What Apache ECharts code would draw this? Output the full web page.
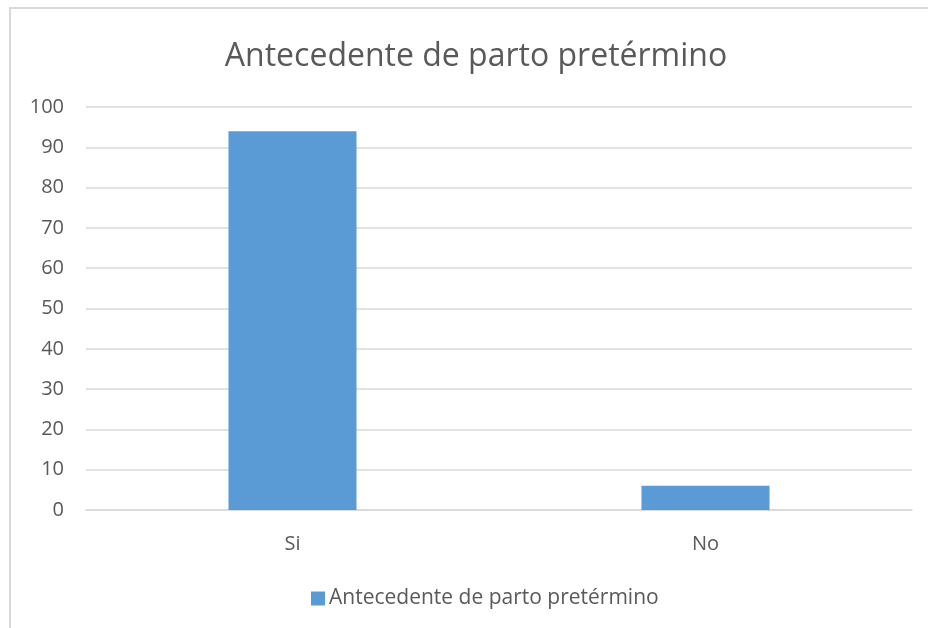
<!DOCTYPE html>
<html>
<head>
<meta charset="utf-8">
<script src="https://cdn.jsdelivr.net/npm/echarts@6/dist/echarts.min.js"></script>
<style>
html,body{margin:0;padding:0;background:#fff;}
#c{width:928px;height:628px;}
</style>
</head>
<body>
<div id="c"></div>
<script>
const titleText = 'Antecedente de parto pretérmino';
const seriesName = 'Antecedente de parto pretérmino';
const categories = ['Si', 'No'];
const values = [94, 6];

const chart = echarts.init(document.getElementById('c'), null, {renderer: 'canvas'});
const FONT = '"Open Sans", "Liberation Sans", sans-serif';
chart.setOption({
  backgroundColor: '#ffffff',
  animation: false,
  textStyle: {fontFamily: FONT},
  graphic: [
    {type: 'rect', shape: {x: 10, y: 8, width: 960, height: 700}, style: {fill: 'none', stroke: '#d9d9d9', lineWidth: 2}, silent: true, z: -1},
    {type: 'text', x: 476, y: 57, style: {text: titleText, font: '32px ' + FONT, fill: '#595959', textAlign: 'center', textVerticalAlign: 'middle'}}
  ],
  legend: {
    left: 306, top: 583,
    icon: 'rect', itemWidth: 14, itemHeight: 14, itemGap: 10,
    textStyle: {color: '#595959', fontSize: 21, fontFamily: FONT, padding: [0, 0, 0, -1]},
    data: [seriesName]
  },
  grid: {left: 86, right: 16, top: 107, bottom: 118, containLabel: false},
  xAxis: {
    type: 'category', data: categories,
    axisLine: {lineStyle: {color: '#d9d9d9', width: 1.5}},
    axisTick: {show: false},
    axisLabel: {color: '#595959', fontSize: 20, margin: 24, fontFamily: FONT}
  },
  yAxis: {
    type: 'value', min: 0, max: 100, interval: 10,
    axisLine: {show: false}, axisTick: {show: false},
    axisLabel: {color: '#595959', fontSize: 20, margin: 22, fontFamily: FONT},
    splitLine: {lineStyle: {color: '#d9d9d9', width: 1.5}}
  },
  series: [{
    name: seriesName, type: 'bar', data: values,
    barWidth: '31%',
    itemStyle: {color: '#5b9bd5'}
  }]
});
</script>
</body>
</html>
